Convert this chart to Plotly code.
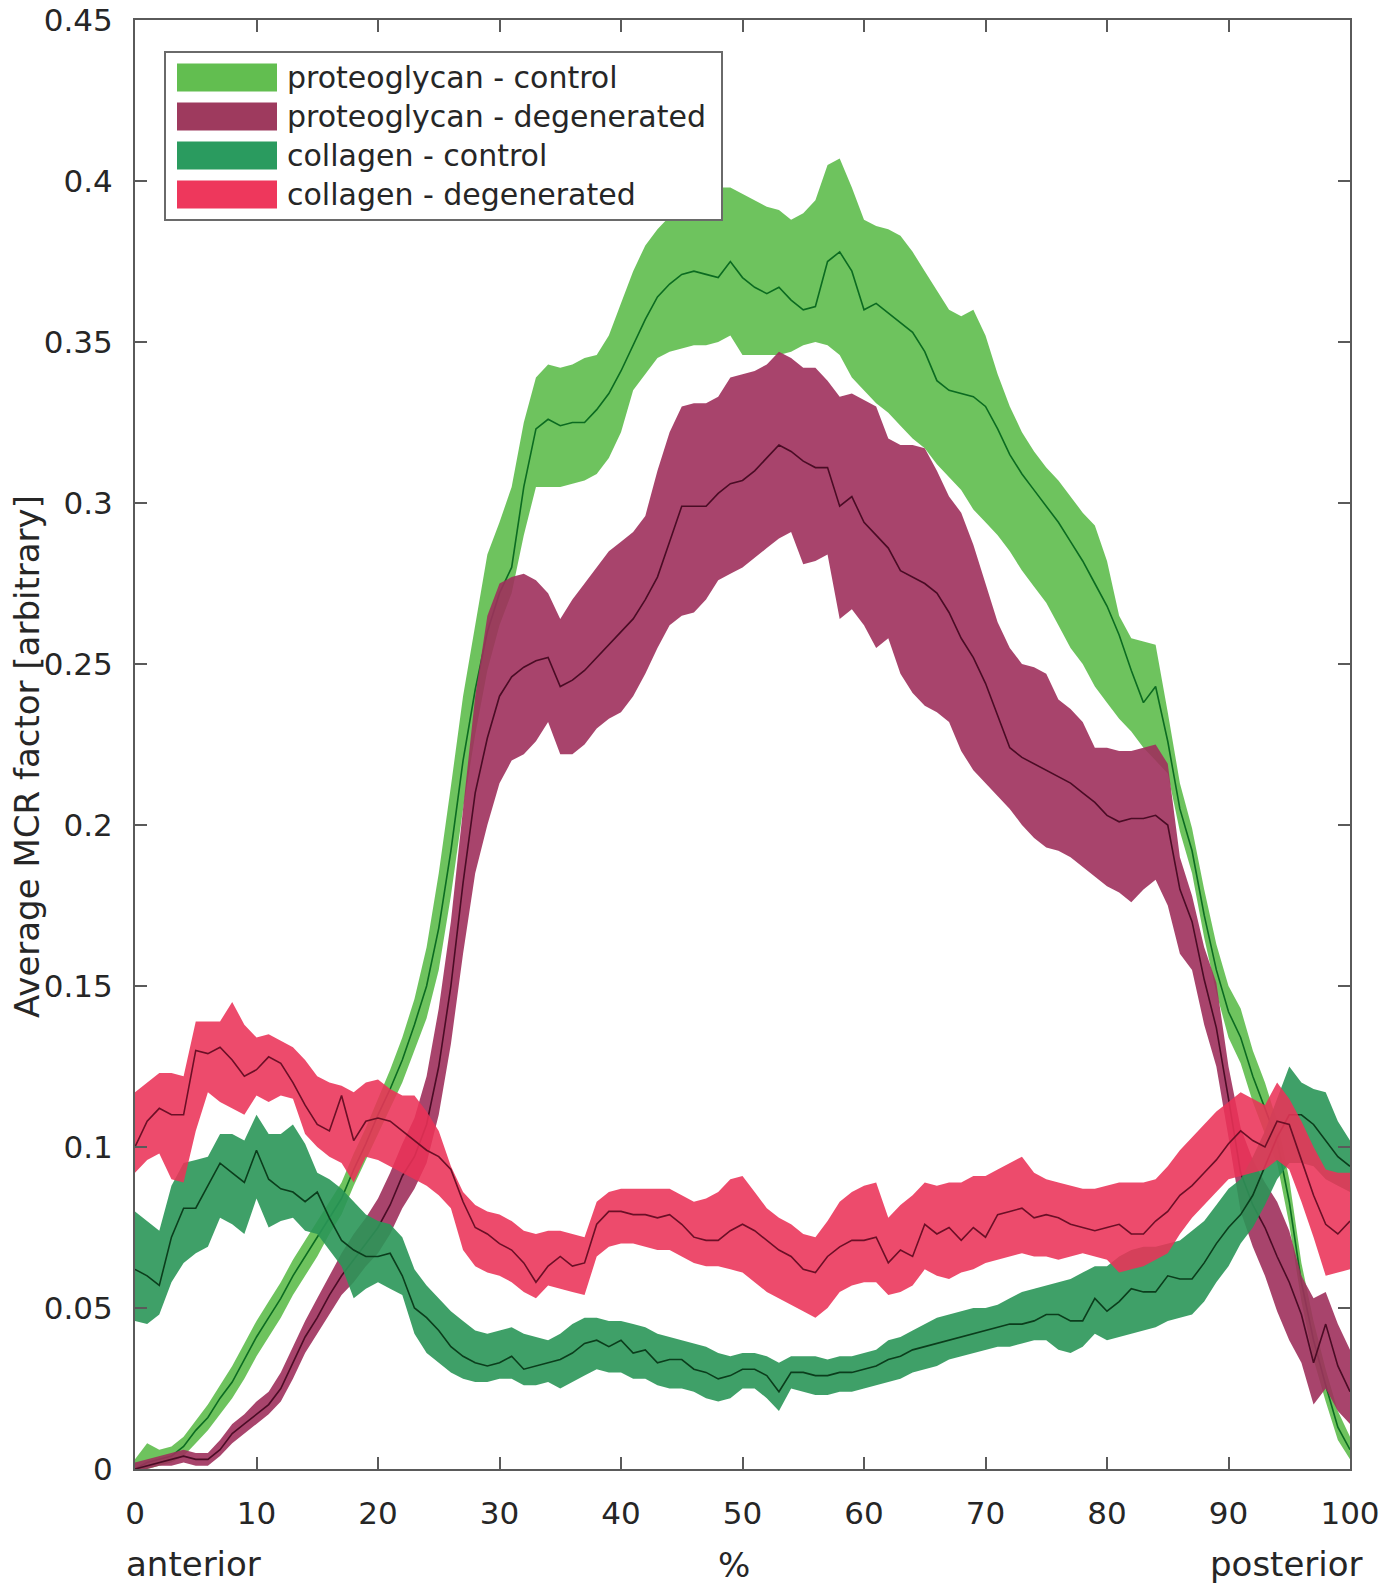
import plotly.graph_objects as go

# ---------------- data ----------------
position = list(range(0, 101))  # % from anterior (0) to posterior (100)

series_names = ["proteoglycan - control", "proteoglycan - degenerated",
                "collagen - control", "collagen - degenerated"]

pg_control_mean = [0.000, 0.002, 0.003, 0.004, 0.007, 0.012, 0.016, 0.022, 0.027, 0.034,
                   0.041, 0.047, 0.053, 0.060, 0.066, 0.072, 0.078, 0.084, 0.093, 0.101,
                   0.110, 0.118, 0.127, 0.138, 0.150, 0.168, 0.192, 0.220, 0.242, 0.260,
                   0.272, 0.280, 0.305, 0.323, 0.326, 0.324, 0.325, 0.325, 0.329, 0.334,
                   0.341, 0.349, 0.357, 0.364, 0.368, 0.371, 0.372, 0.371, 0.370, 0.375,
                   0.370, 0.367, 0.365, 0.367, 0.363, 0.360, 0.361, 0.375, 0.378, 0.372,
                   0.360, 0.362, 0.359, 0.356, 0.353, 0.347, 0.338, 0.335, 0.334, 0.333,
                   0.330, 0.323, 0.315, 0.309, 0.304, 0.299, 0.294, 0.288, 0.282, 0.275,
                   0.268, 0.259, 0.248, 0.238, 0.243, 0.226, 0.205, 0.192, 0.172, 0.155,
                   0.142, 0.134, 0.122, 0.112, 0.102, 0.083, 0.058, 0.040, 0.026, 0.013,
                   0.006]
pg_control_upper = [0.003, 0.008, 0.006, 0.007, 0.010, 0.015, 0.020, 0.026, 0.032, 0.039,
                    0.046, 0.052, 0.058, 0.065, 0.071, 0.077, 0.083, 0.089, 0.098, 0.106,
                    0.115, 0.124, 0.134, 0.146, 0.162, 0.185, 0.212, 0.240, 0.262, 0.284,
                    0.294, 0.305, 0.325, 0.339, 0.343, 0.342, 0.343, 0.345, 0.346, 0.352,
                    0.362, 0.372, 0.380, 0.385, 0.389, 0.392, 0.394, 0.396, 0.398, 0.398,
                    0.396, 0.394, 0.392, 0.391, 0.388, 0.390, 0.394, 0.405, 0.407, 0.398,
                    0.388, 0.386, 0.385, 0.383, 0.378, 0.372, 0.366, 0.360, 0.358, 0.360,
                    0.352, 0.340, 0.330, 0.322, 0.316, 0.311, 0.307, 0.302, 0.297, 0.293,
                    0.282, 0.265, 0.258, 0.257, 0.256, 0.235, 0.213, 0.199, 0.180, 0.163,
                    0.150, 0.143, 0.130, 0.120, 0.108, 0.090, 0.064, 0.046, 0.031, 0.018,
                    0.010]
pg_control_lower = [0.000, 0.000, 0.001, 0.002, 0.004, 0.008, 0.012, 0.017, 0.022, 0.028,
                    0.035, 0.041, 0.047, 0.054, 0.060, 0.066, 0.073, 0.079, 0.088, 0.096,
                    0.104, 0.112, 0.120, 0.130, 0.140, 0.155, 0.178, 0.205, 0.228, 0.248,
                    0.262, 0.272, 0.290, 0.305, 0.305, 0.305, 0.306, 0.307, 0.309, 0.314,
                    0.322, 0.335, 0.340, 0.345, 0.347, 0.348, 0.349, 0.349, 0.350, 0.352,
                    0.346, 0.346, 0.346, 0.346, 0.347, 0.349, 0.350, 0.349, 0.346, 0.339,
                    0.335, 0.331, 0.328, 0.324, 0.320, 0.317, 0.312, 0.308, 0.304, 0.298,
                    0.294, 0.290, 0.285, 0.279, 0.274, 0.269, 0.262, 0.255, 0.250, 0.243,
                    0.238, 0.233, 0.229, 0.224, 0.220, 0.216, 0.198, 0.185, 0.165, 0.148,
                    0.134, 0.126, 0.114, 0.104, 0.095, 0.076, 0.052, 0.034, 0.021, 0.009,
                    0.003]

pg_degen_mean = [0.000, 0.001, 0.002, 0.003, 0.004, 0.003, 0.003, 0.006, 0.011, 0.014,
                 0.017, 0.020, 0.025, 0.033, 0.041, 0.047, 0.054, 0.060, 0.065, 0.070,
                 0.075, 0.082, 0.091, 0.097, 0.107, 0.125, 0.150, 0.182, 0.210, 0.227,
                 0.240, 0.246, 0.249, 0.251, 0.252, 0.243, 0.245, 0.248, 0.252, 0.256,
                 0.260, 0.264, 0.270, 0.277, 0.288, 0.299, 0.299, 0.299, 0.303, 0.306,
                 0.307, 0.310, 0.314, 0.318, 0.316, 0.313, 0.311, 0.311, 0.299, 0.302,
                 0.294, 0.290, 0.286, 0.279, 0.277, 0.275, 0.272, 0.266, 0.258, 0.252,
                 0.244, 0.234, 0.224, 0.221, 0.219, 0.217, 0.215, 0.213, 0.210, 0.207,
                 0.203, 0.201, 0.202, 0.202, 0.203, 0.200, 0.180, 0.170, 0.152, 0.137,
                 0.115, 0.092, 0.082, 0.075, 0.066, 0.058, 0.048, 0.033, 0.045, 0.032,
                 0.024]
pg_degen_upper = [0.002, 0.003, 0.004, 0.005, 0.006, 0.005, 0.005, 0.009, 0.014, 0.017,
                  0.021, 0.024, 0.030, 0.038, 0.046, 0.053, 0.060, 0.067, 0.073, 0.078,
                  0.084, 0.092, 0.101, 0.109, 0.122, 0.143, 0.170, 0.205, 0.240, 0.265,
                  0.275, 0.277, 0.278, 0.276, 0.272, 0.264, 0.270, 0.275, 0.280, 0.285,
                  0.288, 0.291, 0.296, 0.310, 0.322, 0.330, 0.331, 0.331, 0.333, 0.339,
                  0.340, 0.341, 0.343, 0.347, 0.345, 0.342, 0.342, 0.338, 0.333, 0.334,
                  0.332, 0.330, 0.320, 0.318, 0.318, 0.317, 0.310, 0.302, 0.297, 0.287,
                  0.275, 0.263, 0.255, 0.250, 0.249, 0.247, 0.239, 0.236, 0.232, 0.224,
                  0.224, 0.223, 0.223, 0.224, 0.225, 0.219, 0.190, 0.178, 0.162, 0.151,
                  0.125, 0.106, 0.096, 0.089, 0.083, 0.074, 0.060, 0.053, 0.055, 0.045,
                  0.037]
pg_degen_lower = [0.000, 0.000, 0.001, 0.001, 0.002, 0.001, 0.001, 0.004, 0.008, 0.011,
                  0.014, 0.017, 0.021, 0.028, 0.036, 0.042, 0.048, 0.054, 0.058, 0.063,
                  0.067, 0.073, 0.081, 0.087, 0.095, 0.110, 0.132, 0.160, 0.185, 0.200,
                  0.213, 0.220, 0.222, 0.226, 0.232, 0.222, 0.222, 0.225, 0.230, 0.233,
                  0.235, 0.240, 0.247, 0.255, 0.262, 0.265, 0.266, 0.270, 0.276, 0.278,
                  0.280, 0.283, 0.286, 0.289, 0.291, 0.281, 0.282, 0.284, 0.264, 0.267,
                  0.262, 0.255, 0.258, 0.247, 0.241, 0.237, 0.235, 0.232, 0.223, 0.217,
                  0.213, 0.209, 0.205, 0.200, 0.196, 0.193, 0.192, 0.190, 0.187, 0.184,
                  0.181, 0.179, 0.176, 0.180, 0.183, 0.175, 0.160, 0.155, 0.138, 0.125,
                  0.103, 0.080, 0.069, 0.060, 0.049, 0.040, 0.033, 0.020, 0.025, 0.018,
                  0.014]

col_control_mean = [0.062, 0.060, 0.057, 0.072, 0.081, 0.081, 0.088, 0.095, 0.092, 0.089,
                    0.099, 0.090, 0.087, 0.086, 0.083, 0.086, 0.078, 0.071, 0.068, 0.066,
                    0.066, 0.067, 0.060, 0.050, 0.047, 0.043, 0.038, 0.035, 0.033, 0.032,
                    0.033, 0.035, 0.031, 0.032, 0.033, 0.034, 0.036, 0.039, 0.040, 0.038,
                    0.040, 0.036, 0.037, 0.033, 0.034, 0.034, 0.031, 0.030, 0.028, 0.029,
                    0.031, 0.031, 0.029, 0.024, 0.030, 0.030, 0.029, 0.029, 0.030, 0.030,
                    0.031, 0.032, 0.034, 0.035, 0.037, 0.038, 0.039, 0.040, 0.041, 0.042,
                    0.043, 0.044, 0.045, 0.045, 0.046, 0.048, 0.048, 0.046, 0.046, 0.053,
                    0.049, 0.052, 0.056, 0.055, 0.055, 0.060, 0.059, 0.059, 0.064, 0.070,
                    0.075, 0.079, 0.085, 0.094, 0.103, 0.110, 0.110, 0.107, 0.102, 0.097,
                    0.094]
col_control_upper = [0.080, 0.077, 0.074, 0.088, 0.095, 0.096, 0.097, 0.104, 0.104, 0.102,
                     0.110, 0.104, 0.104, 0.107, 0.101, 0.092, 0.090, 0.087, 0.083, 0.079,
                     0.077, 0.076, 0.072, 0.062, 0.057, 0.053, 0.049, 0.046, 0.043, 0.042,
                     0.043, 0.044, 0.042, 0.041, 0.040, 0.042, 0.045, 0.047, 0.047, 0.046,
                     0.046, 0.045, 0.044, 0.042, 0.041, 0.040, 0.039, 0.038, 0.036, 0.035,
                     0.036, 0.036, 0.035, 0.033, 0.035, 0.035, 0.035, 0.034, 0.035, 0.035,
                     0.036, 0.037, 0.040, 0.041, 0.043, 0.045, 0.047, 0.048, 0.049, 0.050,
                     0.050, 0.051, 0.053, 0.055, 0.056, 0.057, 0.058, 0.059, 0.061, 0.063,
                     0.063, 0.066, 0.068, 0.069, 0.069, 0.070, 0.071, 0.074, 0.077, 0.082,
                     0.087, 0.090, 0.097, 0.105, 0.115, 0.125, 0.120, 0.118, 0.117, 0.108,
                     0.102]
col_control_lower = [0.046, 0.045, 0.048, 0.058, 0.064, 0.067, 0.069, 0.078, 0.076, 0.073,
                     0.084, 0.075, 0.077, 0.078, 0.074, 0.073, 0.068, 0.063, 0.053, 0.056,
                     0.058, 0.056, 0.054, 0.042, 0.036, 0.033, 0.030, 0.028, 0.027, 0.027,
                     0.028, 0.028, 0.026, 0.026, 0.027, 0.025, 0.027, 0.029, 0.031, 0.030,
                     0.030, 0.028, 0.028, 0.026, 0.025, 0.025, 0.024, 0.022, 0.021, 0.022,
                     0.025, 0.025, 0.022, 0.018, 0.025, 0.024, 0.023, 0.023, 0.024, 0.024,
                     0.025, 0.026, 0.027, 0.028, 0.030, 0.031, 0.032, 0.034, 0.035, 0.036,
                     0.037, 0.038, 0.038, 0.039, 0.040, 0.040, 0.037, 0.036, 0.038, 0.042,
                     0.040, 0.041, 0.042, 0.043, 0.044, 0.046, 0.047, 0.048, 0.052, 0.058,
                     0.063, 0.070, 0.075, 0.082, 0.090, 0.095, 0.095, 0.094, 0.090, 0.088,
                     0.086]

col_degen_mean = [0.100, 0.108, 0.112, 0.110, 0.110, 0.130, 0.129, 0.131, 0.127, 0.122,
                  0.124, 0.128, 0.126, 0.120, 0.113, 0.107, 0.105, 0.116, 0.102, 0.108,
                  0.109, 0.108, 0.105, 0.102, 0.099, 0.097, 0.093, 0.083, 0.075, 0.073,
                  0.070, 0.068, 0.064, 0.058, 0.063, 0.066, 0.063, 0.064, 0.076, 0.080,
                  0.080, 0.079, 0.079, 0.078, 0.079, 0.076, 0.072, 0.071, 0.071, 0.074,
                  0.076, 0.074, 0.071, 0.068, 0.066, 0.062, 0.061, 0.066, 0.069, 0.071,
                  0.071, 0.072, 0.064, 0.068, 0.066, 0.076, 0.073, 0.075, 0.071, 0.075,
                  0.072, 0.079, 0.080, 0.081, 0.078, 0.079, 0.078, 0.076, 0.075, 0.074,
                  0.075, 0.076, 0.073, 0.073, 0.077, 0.080, 0.085, 0.088, 0.092, 0.096,
                  0.101, 0.105, 0.102, 0.100, 0.108, 0.107, 0.096, 0.085, 0.076, 0.073,
                  0.077]
col_degen_upper = [0.117, 0.120, 0.123, 0.123, 0.122, 0.139, 0.139, 0.139, 0.145, 0.138,
                   0.134, 0.135, 0.133, 0.131, 0.127, 0.122, 0.120, 0.119, 0.117, 0.120,
                   0.121, 0.118, 0.116, 0.116, 0.111, 0.105, 0.094, 0.086, 0.082, 0.080,
                   0.079, 0.077, 0.074, 0.073, 0.074, 0.074, 0.073, 0.072, 0.083, 0.086,
                   0.087, 0.087, 0.087, 0.087, 0.087, 0.085, 0.083, 0.084, 0.086, 0.090,
                   0.091, 0.086, 0.081, 0.078, 0.076, 0.073, 0.072, 0.077, 0.083, 0.086,
                   0.088, 0.089, 0.078, 0.082, 0.085, 0.089, 0.088, 0.089, 0.089, 0.091,
                   0.091, 0.093, 0.095, 0.097, 0.092, 0.090, 0.089, 0.088, 0.087, 0.087,
                   0.088, 0.089, 0.089, 0.089, 0.090, 0.094, 0.099, 0.103, 0.107, 0.111,
                   0.114, 0.117, 0.115, 0.113, 0.120, 0.115, 0.108, 0.100, 0.093, 0.092,
                   0.092]
col_degen_lower = [0.092, 0.096, 0.098, 0.090, 0.089, 0.105, 0.117, 0.114, 0.112, 0.110,
                   0.116, 0.114, 0.116, 0.115, 0.104, 0.100, 0.097, 0.095, 0.089, 0.097,
                   0.096, 0.094, 0.092, 0.090, 0.088, 0.085, 0.081, 0.068, 0.063, 0.061,
                   0.060, 0.058, 0.055, 0.053, 0.057, 0.056, 0.055, 0.054, 0.066, 0.069,
                   0.070, 0.070, 0.069, 0.068, 0.068, 0.066, 0.064, 0.063, 0.063, 0.062,
                   0.061, 0.058, 0.055, 0.053, 0.051, 0.049, 0.047, 0.050, 0.055, 0.057,
                   0.058, 0.058, 0.054, 0.055, 0.057, 0.062, 0.060, 0.059, 0.061, 0.062,
                   0.064, 0.065, 0.066, 0.067, 0.066, 0.066, 0.065, 0.066, 0.067, 0.066,
                   0.065, 0.061, 0.062, 0.063, 0.065, 0.067, 0.073, 0.078, 0.082, 0.086,
                   0.090, 0.091, 0.092, 0.093, 0.096, 0.093, 0.083, 0.072, 0.060, 0.061,
                   0.062]

x_ticks = [0, 10, 20, 30, 40, 50, 60, 70, 80, 90, 100]
y_ticks = [0, 0.05, 0.1, 0.15, 0.2, 0.25, 0.3, 0.35, 0.4, 0.45]

# ---------------- styles ----------------
fill_colors = ["rgba(98,190,80,0.92)", "rgba(158,48,92,0.90)",
               "rgba(42,150,88,0.90)", "rgba(234,50,88,0.88)"]
swatch_colors = ["rgb(98,190,80)", "rgb(158,58,94)", "rgb(42,155,95)", "rgb(238,55,92)"]
line_colors = ["#0b6b21", "#4a0c25", "#0b3d1c", "#6b0f26"]

FONT = "DejaVu Sans"
TXT = "#262626"
AX = "#5a5a5a"

W, H = 1379, 1590
L, R, T, B = 135, 29, 20, 121
PW, PH = W - L - R, H - T - B


def px(xp):
    """page pixel x -> paper x"""
    return (xp - L) / PW


def py(yp):
    """page pixel y -> paper y"""
    return (H - B - yp) / PH


series = [
    (pg_control_mean, pg_control_upper, pg_control_lower),
    (pg_degen_mean, pg_degen_upper, pg_degen_lower),
    (col_control_mean, col_control_upper, col_control_lower),
    (col_degen_mean, col_degen_upper, col_degen_lower),
]

fig = go.Figure()
for i, (m, up, lo) in enumerate(series):
    fig.add_trace(go.Scatter(
        x=position + position[::-1], y=up + lo[::-1],
        fill="toself", fillcolor=fill_colors[i], line=dict(width=0),
        mode="lines", hoverinfo="skip", showlegend=False, name=series_names[i]))
    fig.add_trace(go.Scatter(
        x=position, y=m, mode="lines",
        line=dict(color=line_colors[i], width=1.6),
        showlegend=False, name=series_names[i]))

axis_common = dict(
    showline=True, linecolor=AX, linewidth=2, mirror="ticks",
    ticks="inside", ticklen=12, tickwidth=2, tickcolor=AX,
    showgrid=False, zeroline=False, automargin=False,
    ticklabeloverflow="allow",
    tickfont=dict(family=FONT, size=31, color=TXT),
)

fig.update_xaxes(range=[0, 100], tickvals=x_ticks, ticklabelstandoff=16, **axis_common)
fig.update_yaxes(range=[0, 0.45], tickvals=y_ticks, ticklabelstandoff=14, **axis_common)

shapes = []
annotations = []

# legend box
shapes.append(dict(type="rect", xref="paper", yref="paper",
                   x0=px(165), x1=px(722), y0=py(220), y1=py(52),
                   line=dict(color="#6a6a6a", width=2), fillcolor="white", layer="above"))
row_centers = [77.5, 116.5, 155.5, 194.5]
for i, name in enumerate(series_names):
    yc = row_centers[i]
    shapes.append(dict(type="rect", xref="paper", yref="paper",
                       x0=px(177), x1=px(277), y0=py(yc + 14), y1=py(yc - 14),
                       line=dict(width=0), fillcolor=swatch_colors[i], layer="above"))
    annotations.append(dict(xref="paper", yref="paper", x=px(285), y=py(yc),
                            xanchor="left", yanchor="middle", text=name, showarrow=False,
                            font=dict(family=FONT, size=30, color=TXT)))

# axis titles / labels
annotations.append(dict(xref="paper", yref="paper", x=px(27), y=py(757),
                        text="Average MCR factor [arbitrary]", textangle=-90,
                        xanchor="center", yanchor="middle", showarrow=False,
                        font=dict(family=FONT, size=34, color=TXT)))
annotations.append(dict(xref="paper", yref="paper", x=px(734), y=py(1565),
                        text="%", xanchor="center", yanchor="middle", showarrow=False,
                        font=dict(family=FONT, size=34, color=TXT)))
annotations.append(dict(xref="paper", yref="paper", x=px(193), y=py(1564),
                        text="anterior", xanchor="center", yanchor="middle", showarrow=False,
                        font=dict(family=FONT, size=34, color=TXT)))
annotations.append(dict(xref="paper", yref="paper", x=px(1286), y=py(1564),
                        text="posterior", xanchor="center", yanchor="middle", showarrow=False,
                        font=dict(family=FONT, size=34, color=TXT)))

fig.update_layout(
    width=W, height=H, autosize=False,
    margin=dict(l=L, r=R, t=T, b=B, autoexpand=False),
    paper_bgcolor="white", plot_bgcolor="white",
    showlegend=False, shapes=shapes, annotations=annotations,
)

# remove the default page margin so the figure fills the window exactly
fig.write_html("out.html",
               config={"displayModeBar": False},
               post_script="document.body.style.margin='0';document.body.style.overflow='hidden';")
